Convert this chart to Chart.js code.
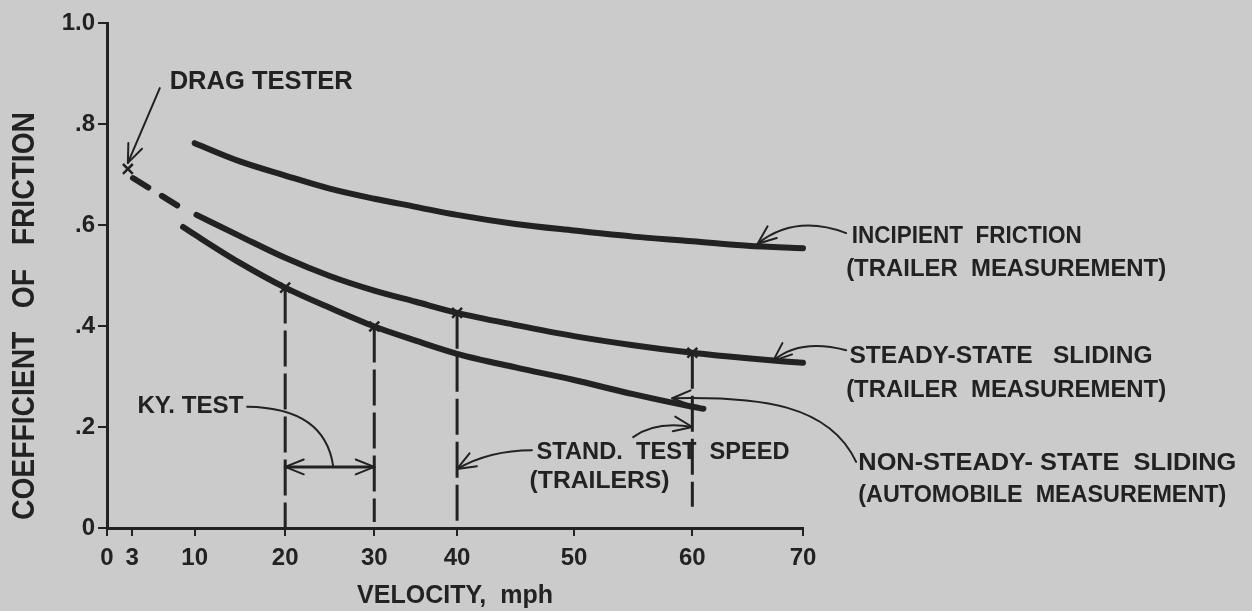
<!DOCTYPE html>
<html>
<head>
<meta charset="utf-8">
<script src="https://cdn.jsdelivr.net/npm/chart.js@4.4.1/dist/chart.umd.min.js"></script>
<style>
  html, body { margin: 0; padding: 0; background: #cbcbcb; }
  #wrap { width: 1252px; height: 611px; position: relative; }
</style>
</head>
<body>
<div id="wrap"><canvas id="frictionChart"></canvas></div>
<script>
// velocity (mph) / coefficient of friction
const incipientMph  = [10, 15, 20, 25, 30, 35, 40, 45, 50, 55, 60, 65, 70];
const incipientCoef = [0.762, 0.726, 0.698, 0.672, 0.652, 0.636, 0.620, 0.602, 0.589, 0.577, 0.568, 0.559, 0.554];

const steadyMph  = [10.2, 15, 20, 25, 30, 35, 40, 45, 50, 55, 60, 65, 70];
const steadyCoef = [0.620, 0.578, 0.535, 0.499, 0.470, 0.448, 0.426, 0.402, 0.380, 0.362, 0.347, 0.336, 0.327];

const nonSteadyMph  = [8.7, 10, 15, 20, 25, 30, 35, 40, 45, 50, 55, 60, 61];
const nonSteadyCoef = [0.596, 0.581, 0.525, 0.476, 0.436, 0.399, 0.371, 0.345, 0.318, 0.293, 0.265, 0.240, 0.236];

// dashed extension back to the drag tester reading
const dragMph  = [3.1, 8.3];
const dragCoef = [0.693, 0.636];

// crosses: drag tester, Ky. test, trailer standard test speeds
const crossMph  = [2.5, 20, 30, 40, 60];
const crossCoef = [0.711, 0.476, 0.399, 0.426, 0.347];

// dashed verticals at the test speeds (top, bottom)
const testMph    = [20, 30, 40, 60];
const testTop    = [0.476, 0.399, 0.426, 0.347];
const testBottom = [0, 0.012, 0, 0.042];

const xTicks = [0, 3, 10, 20, 30, 40, 50, 60, 70];
const yTicks = [0, 0.2, 0.4, 0.6, 0.8, 1.0];
const yTickLabels = ['0', '.2', '.4', '.6', '.8', '1.0'];

// the original axis is hand drawn: 0-40 mph takes about half the width
const xTickFrac = [0, 0.036, 0.126, 0.256, 0.384, 0.503, 0.671, 0.841, 1];

function mphToFrac(v) {
    let i = 1;
    while (i < xTicks.length - 1 && v > xTicks[i]) i++;
    const a = xTicks[i - 1], b = xTicks[i];
    return xTickFrac[i - 1] + (v - a) / (b - a) * (xTickFrac[i] - xTickFrac[i - 1]);
}
function fracToMph(f) {
    let i = 1;
    while (i < xTickFrac.length - 1 && f > xTickFrac[i]) i++;
    const a = xTickFrac[i - 1], b = xTickFrac[i];
    return xTicks[i - 1] + (f - a) / (b - a) * (xTicks[i] - xTicks[i - 1]);
}

class HandDrawnScale extends Chart.LinearScale {
    getPixelForValue(value) {
        if (value === null || isNaN(value)) return NaN;
        return this.getPixelForDecimal(mphToFrac(value));
    }
    getValueForPixel(pixel) {
        return fracToMph(this.getDecimalForPixel(pixel));
    }
}
HandDrawnScale.id = 'handDrawn';
HandDrawnScale.defaults = Chart.LinearScale.defaults;
Chart.register(HandDrawnScale);

const INK = '#222222';
const FONT = '"Liberation Sans", Arial, sans-serif';

const pts = (xs, ys) => xs.map((x, i) => ({ x: x, y: ys[i] }));

// text notes: anchor (left, middle) in data units, width in px
const notes = [
    { text: 'DRAG TESTER', mph: 7.2, coef: 0.883, width: 183, size: 26 },
    { text: 'KY. TEST', mph: 3.6, coef: 0.240, width: 106, size: 24 },
    { text: 'STAND.  TEST  SPEED', mph: 46.8, coef: 0.149, width: 253, size: 24 },
    { text: '(TRAILERS)', mph: 46.2, coef: 0.093, width: 140, size: 24 },
    { text: 'INCIPIENT  FRICTION', mph: 74.4, coef: 0.578, width: 230, size: 24 },
    { text: '(TRAILER  MEASUREMENT)', mph: 73.9, coef: 0.513, width: 320, size: 24 },
    { text: 'STEADY-STATE   SLIDING', mph: 74.2, coef: 0.339, width: 303, size: 24 },
    { text: '(TRAILER  MEASUREMENT)', mph: 73.9, coef: 0.273, width: 320, size: 24 },
    { text: 'NON-STEADY- STATE  SLIDING', mph: 75.0, coef: 0.127, width: 378, size: 24 },
    { text: '(AUTOMOBILE  MEASUREMENT)', mph: 75.0, coef: 0.065, width: 368, size: 24 }
];

// leader lines: 2 pts = straight, 3 = quadratic, 4 = cubic
const leaders = [
    { p: [[6.1, 0.871], [2.5, 0.723]], head: true },
    { p: [[15.8, 0.240], [24.5, 0.238], [25.4, 0.121]] },
    { p: [[20, 0.121], [30, 0.121]], head: true, tail: true, w: 3 },
    { p: [[46.4, 0.154], [42.8, 0.154], [40, 0.117]], head: true },
    { p: [[55.0, 0.180], [56.9, 0.212], [60, 0.200]], head: true },
    { p: [[73.9, 0.584], [69.3, 0.622], [65.9, 0.563]], head: true },
    { p: [[73.9, 0.352], [69.7, 0.376], [67.3, 0.331]], head: true },
    { p: [[74.8, 0.131], [72.4, 0.244], [66.2, 0.261], [58.3, 0.257]], head: true }
];

function fitText(ctx, text, x, y, size, width) {
    ctx.save();
    ctx.font = 'bold ' + size + 'px ' + FONT;
    const w = ctx.measureText(text).width;
    ctx.translate(x, y);
    ctx.scale(width / w, 1);
    ctx.textBaseline = 'middle';
    ctx.textAlign = 'left';
    ctx.fillStyle = INK;
    ctx.fillText(text, 0, 0);
    ctx.restore();
}

function arrowHead(ctx, tip, from) {
    const ang = Math.atan2(tip.y - from.y, tip.x - from.x);
    const len = 20, spread = 0.38;
    ctx.beginPath();
    [-1, 1].forEach(function(s) {
        ctx.moveTo(tip.x, tip.y);
        ctx.lineTo(tip.x - len * Math.cos(ang + s * spread), tip.y - len * Math.sin(ang + s * spread));
    });
    ctx.stroke();
}

const notesPlugin = {
    id: 'notes',
    afterDatasetsDraw(chart) {
        const ctx = chart.ctx, xs = chart.scales.x, ys = chart.scales.y;
        const toPx = p => ({ x: xs.getPixelForValue(p[0]), y: ys.getPixelForValue(p[1]) });

        ctx.save();
        ctx.strokeStyle = INK;
        ctx.lineCap = 'round';
        leaders.forEach(function(l) {
            const q = l.p.map(toPx);
            ctx.lineWidth = l.w || 2;
            ctx.beginPath();
            ctx.moveTo(q[0].x, q[0].y);
            if (q.length === 2) ctx.lineTo(q[1].x, q[1].y);
            else if (q.length === 3) ctx.quadraticCurveTo(q[1].x, q[1].y, q[2].x, q[2].y);
            else ctx.bezierCurveTo(q[1].x, q[1].y, q[2].x, q[2].y, q[3].x, q[3].y);
            ctx.stroke();
            ctx.lineWidth = 2;
            if (l.head) arrowHead(ctx, q[q.length - 1], q[q.length - 2]);
            if (l.tail) arrowHead(ctx, q[0], q[1]);
        });
        ctx.restore();

        notes.forEach(function(n) {
            fitText(ctx, n.text, xs.getPixelForValue(n.mph), ys.getPixelForValue(n.coef), n.size, n.width);
        });

        // y axis title, drawn by hand to get the condensed lettering
        ctx.save();
        ctx.translate(25, 316);
        ctx.rotate(-Math.PI / 2);
        fitText(ctx, 'COEFFICIENT   OF   FRICTION', -204, 0, 32, 408);
        ctx.restore();
    }
};

const datasets = [];
testMph.forEach(function(m, i) {
    datasets.push({
        data: [{ x: m, y: testTop[i] }, { x: m, y: testBottom[i] }],
        borderColor: INK, borderWidth: 3, borderDash: [36, 7], pointRadius: 0
    });
});
datasets.push({
    label: 'Drag tester extension',
    data: pts(dragMph, dragCoef),
    borderColor: INK, borderWidth: 6, borderDash: [18, 16], borderCapStyle: 'round', pointRadius: 0
});
[[incipientMph, incipientCoef, 'Incipient friction'],
 [steadyMph, steadyCoef, 'Steady-state sliding'],
 [nonSteadyMph, nonSteadyCoef, 'Non-steady-state sliding']].forEach(function(s) {
    datasets.push({
        label: s[2],
        data: pts(s[0], s[1]),
        borderColor: INK, borderWidth: 6, borderCapStyle: 'round',
        cubicInterpolationMode: 'monotone', pointRadius: 0
    });
});
datasets.push({
    label: 'Measurements',
    data: pts(crossMph, crossCoef),
    showLine: false, pointStyle: 'crossRot', pointRadius: 7,
    pointBorderWidth: 2.5, pointBorderColor: INK
});
datasets.forEach(d => { d.clip = false; });

Chart.defaults.font.family = FONT;
Chart.defaults.color = INK;

const ctx = document.getElementById('frictionChart').getContext('2d');
new Chart(ctx, {
    type: 'line',
    data: { datasets: datasets },
    plugins: [notesPlugin],
    options: {
        responsive: true,
        maintainAspectRatio: false,
        animation: false,
        layout: { padding: { top: 23, right: 449, left: 0, bottom: 0 } },
        plugins: { legend: { display: false }, tooltip: { enabled: false } },
        scales: {
            x: {
                type: 'handDrawn',
                min: 0, max: 70,
                afterBuildTicks: scale => { scale.ticks = xTicks.map(v => ({ value: v })); },
                afterFit: scale => { scale.height = 83; },
                grid: { drawOnChartArea: false, tickLength: 8, color: INK, lineWidth: 2 },
                border: { color: INK, width: 3 },
                ticks: {
                    autoSkip: false, maxRotation: 0, padding: 8,
                    font: { size: 24, weight: 'bold' },
                    callback: v => String(v)
                },
                title: {
                    display: true, text: 'VELOCITY,  mph',
                    font: { size: 25, weight: 'bold' },
                    padding: { top: 0, bottom: 0 }
                }
            },
            y: {
                min: 0, max: 1,
                afterBuildTicks: scale => { scale.ticks = yTicks.map(v => ({ value: v })); },
                afterFit: scale => { scale.width = 107; },
                grid: { drawOnChartArea: false, tickLength: 9, color: INK, lineWidth: 2 },
                border: { color: INK, width: 3 },
                ticks: {
                    padding: 3,
                    font: { size: 24, weight: 'bold' },
                    callback: (v, i) => yTickLabels[i]
                }
            }
        }
    }
});
</script>
</body>
</html>
